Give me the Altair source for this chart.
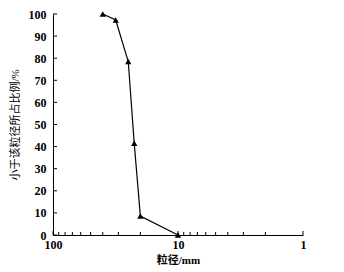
import altair as alt
import pandas as pd

size_mm = [40, 31.5, 25, 22.4, 20, 10]
pct = [100, 97.3, 78.5, 41.5, 8.6, 0]
x_major = [100, 10, 1]
x_minor = [90, 80, 70, 60, 50, 40, 30, 20, 9, 8, 7, 6, 5, 4, 3, 2]
y_ticks = [0, 10, 20, 30, 40, 50, 60, 70, 80, 90, 100]

W, H = 250, 221
FONT = "Liberation Serif"
CJK = "Liberation Serif, Noto Sans CJK SC"

df = pd.DataFrame({"d": size_mm, "p": pct})
xscale = alt.Scale(type="log", domain=[1, 100], reverse=True)
yscale = alt.Scale(domain=[0, 100])

xaxis = alt.Axis(values=x_major, ticks=False, grid=False, title="粒径/mm",
                 labelExpr="datum.value", labelPadding=4, domainColor="black",
                 labelOverlap=False,
                 labelFont=FONT, labelFontSize=12, labelFontWeight="bold", labelColor="black",
                 titleFont=CJK, titleFontSize=11, titleFontWeight="bold", titleColor="black",
                 titlePadding=4, labelFlush=False)
yaxis = alt.Axis(values=y_ticks, ticks=False, grid=False, title="小于该粒径所占比例/%",
                 labelPadding=7, domainColor="black", labelOverlap=False,
                 labelFont=FONT, labelFontSize=12, labelFontWeight="bold", labelColor="black",
                 titleFont=CJK, titleFontSize=11, titleFontWeight="normal", titleColor="black",
                 titlePadding=8)

line = alt.Chart(df).mark_line(color="black", strokeWidth=1.2).encode(
    x=alt.X("d:Q", scale=xscale, axis=xaxis),
    y=alt.Y("p:Q", scale=yscale, axis=yaxis),
)
pts = alt.Chart(df).mark_point(shape="triangle-up", filled=True, color="black", size=40, opacity=1).encode(
    x=alt.X("d:Q", scale=xscale, axis=xaxis), y=alt.Y("p:Q", scale=yscale, axis=yaxis))

xmaj = alt.Chart(pd.DataFrame({"d": x_major})).mark_rule(color="black").encode(
    x=alt.X("d:Q", scale=xscale, axis=xaxis), y=alt.value(H), y2=alt.value(H - 4))
xmin = alt.Chart(pd.DataFrame({"d": x_minor})).mark_rule(color="black").encode(
    x=alt.X("d:Q", scale=xscale, axis=xaxis), y=alt.value(H), y2=alt.value(H - 3))
ytk = alt.Chart(pd.DataFrame({"p": y_ticks})).mark_rule(color="black").encode(
    y=alt.Y("p:Q", scale=yscale, axis=yaxis), x=alt.value(0), x2=alt.value(4))

chart = alt.layer(line, xmaj, xmin, ytk, pts).properties(
    width=W, height=H,
    autosize=alt.AutoSizeParams(type="none"),
    padding={"left": 53, "top": 14, "right": 41, "bottom": 37},
    background="white",
).configure_view(stroke=None)

chart.save("out.html", embed_options={"renderer": "svg", "actions": False})
